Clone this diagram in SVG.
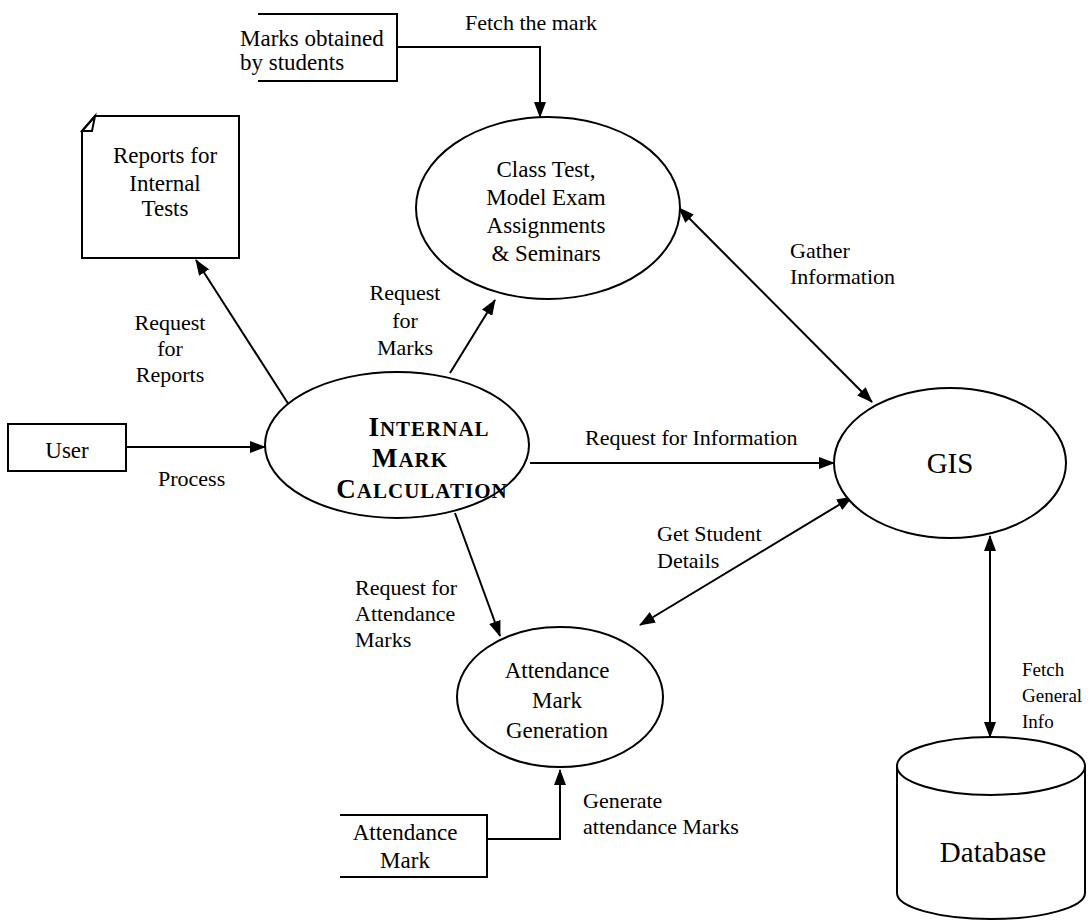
<svg xmlns="http://www.w3.org/2000/svg" width="1088" height="920" viewBox="0 0 1088 920">
<defs>
<marker id="ah" markerUnits="userSpaceOnUse" markerWidth="16" markerHeight="12" refX="15" refY="6" orient="auto-start-reverse">
<path d="M0,0 L16,6 L0,12 Z" fill="#000"/>
</marker>
<style>
.s{fill:#fff;stroke:#000;stroke-width:2}
.o{fill:none;stroke:#000;stroke-width:2}
.c{fill:none;stroke:#000;stroke-width:2}
text{font-family:"Liberation Serif","Times New Roman",serif;font-size:22px;fill:#000}
.m{text-anchor:middle}
.n{font-size:23px}
.sm{font-size:19px}
.gis{font-size:29px}
.db{font-size:29px}
.b{font-weight:bold;letter-spacing:1px}
</style>
</defs>
<rect width="1088" height="920" fill="#fff"/>
<g id="connectors">
<path class="c" d="M397,47 H540 V117" marker-end="url(#ah)"/>
<path class="c" d="M289,405 L196,260" marker-end="url(#ah)"/>
<path class="c" d="M126,447 L265,447" marker-end="url(#ah)"/>
<path class="c" d="M450,373 L495,300" marker-end="url(#ah)"/>
<path class="c" d="M530,463 L834,463" marker-end="url(#ah)"/>
<path class="c" d="M679,208 L872,402" marker-start="url(#ah)" marker-end="url(#ah)"/>
<path class="c" d="M852,497 L640,625" marker-start="url(#ah)" marker-end="url(#ah)"/>
<path class="c" d="M455,513 L500,636" marker-end="url(#ah)"/>
<path class="c" d="M487,839 H560 V770" marker-end="url(#ah)"/>
<path class="c" d="M990,536 L990,737" marker-start="url(#ah)" marker-end="url(#ah)"/>
<text x="465" y="30">Fetch the mark</text>
<text class="m" x="170" y="330">Request</text>
<text class="m" x="170" y="356">for</text>
<text class="m" x="170" y="382">Reports</text>
<text x="158" y="486">Process</text>
<text class="m" x="405" y="300">Request</text>
<text class="m" x="405" y="328">for</text>
<text class="m" x="405" y="355">Marks</text>
<text x="585" y="445">Request for Information</text>
<text x="790" y="258">Gather</text>
<text x="790" y="284">Information</text>
<text x="657" y="541">Get Student</text>
<text x="657" y="568">Details</text>
<text x="355" y="595">Request for</text>
<text x="355" y="621">Attendance</text>
<text x="355" y="647">Marks</text>
<text x="583" y="808">Generate</text>
<text x="583" y="834">attendance Marks</text>
<text class="sm" x="1022" y="676">Fetch</text>
<text class="sm" x="1022" y="702">General</text>
<text class="sm" x="1022" y="728">Info</text>
</g>
<g id="marks-obtained">
<path class="o" d="M258,14 H397 V81 H258"/>
<text class="n" x="240" y="46">Marks obtained</text>
<text class="n" x="240" y="70">by students</text>
</g>
<g id="class-test">
<ellipse class="s" cx="548" cy="208" rx="132" ry="91"/>
<text class="m n" x="546" y="177">Class Test,</text>
<text class="m n" x="546" y="205">Model Exam</text>
<text class="m n" x="546" y="233">Assignments</text>
<text class="m n" x="546" y="261">&amp; Seminars</text>
</g>
<g id="reports">
<path class="s" d="M95,116 H239 V258 H82 V131 Z"/>
<path class="o" d="M82,131 L95,116 L92,131 Z"/>
<text class="m n" x="165" y="163">Reports for</text>
<text class="m n" x="165" y="191">Internal</text>
<text class="m n" x="165" y="216">Tests</text>
</g>
<g id="user">
<rect class="s" x="8" y="424" width="118" height="47"/>
<text class="m n" x="67" y="458">User</text>
</g>
<g id="internal-mark">
<ellipse class="s" cx="397" cy="445" rx="132" ry="73"/>
<text class="m b" x="429" y="436"><tspan font-size="27">I</tspan><tspan font-size="21">NTERNAL</tspan></text>
<text class="m b" x="410" y="467"><tspan font-size="27">M</tspan><tspan font-size="21">ARK</tspan></text>
<text class="m b" x="422" y="498"><tspan font-size="27">C</tspan><tspan font-size="21">ALCULATION</tspan></text>
</g>
<g id="gis">
<ellipse class="s" cx="950" cy="463" rx="116" ry="75"/>
<text class="m gis" x="950" y="473">GIS</text>
</g>
<g id="attendance-gen">
<ellipse class="s" cx="560" cy="697" rx="103" ry="70"/>
<text class="m n" x="557" y="678">Attendance</text>
<text class="m n" x="557" y="708">Mark</text>
<text class="m n" x="557" y="738">Generation</text>
</g>
<g id="attendance-mark">
<path class="o" d="M340,815 H487 V877 H340"/>
<text class="m n" x="405" y="840">Attendance</text>
<text class="m n" x="405" y="868">Mark</text>
</g>
<g id="database">
<path class="s" d="M897,766 V893 A94,26 0 0,0 1085,893 V766"/>
<ellipse class="s" cx="991" cy="766" rx="94" ry="29"/>
<text class="m db" x="993" y="862">Database</text>
</g>
</svg>
